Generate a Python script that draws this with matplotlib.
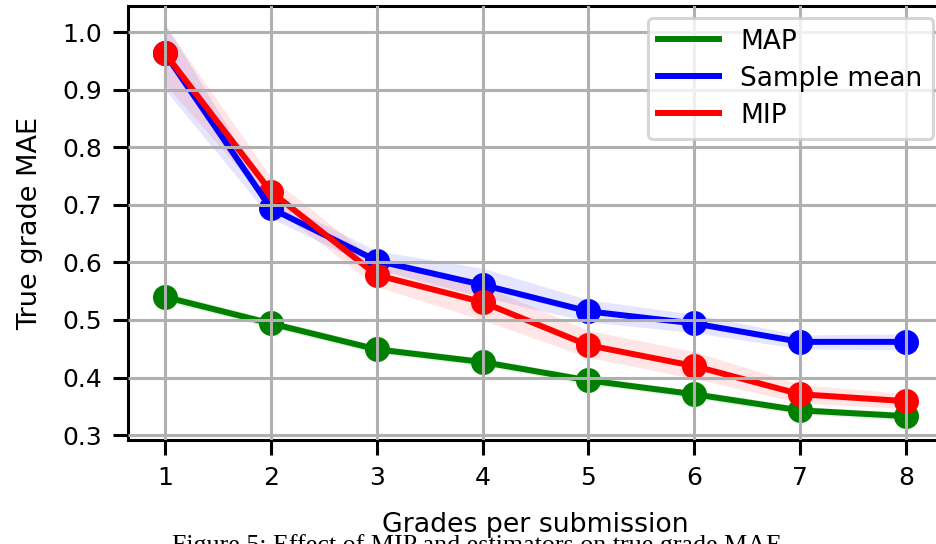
import numpy as np
import matplotlib
matplotlib.use('Agg')
import matplotlib.pyplot as plt

grades=[1,2,3,4,5,6,7,8]

map_mae=[0.540,0.494,0.449,0.427,0.395,0.371,0.343,0.333]
map_lo=[0.532,0.487,0.442,0.420,0.388,0.364,0.336,0.326]
map_hi=[0.548,0.501,0.456,0.434,0.402,0.378,0.350,0.340]

mean_mae=[0.963,0.694,0.603,0.561,0.515,0.494,0.462,0.462]
mean_lo=[0.900,0.677,0.588,0.540,0.497,0.478,0.450,0.448]
mean_hi=[1.015,0.712,0.620,0.590,0.535,0.510,0.474,0.476]

mip_mae=[0.963,0.723,0.578,0.531,0.456,0.420,0.371,0.359]
mip_lo=[0.910,0.700,0.558,0.500,0.435,0.398,0.356,0.346]
mip_hi=[1.012,0.748,0.602,0.560,0.482,0.445,0.388,0.372]

series=[('MAP',map_mae,map_lo,map_hi,'green'),
        ('Sample mean',mean_mae,mean_lo,mean_hi,'blue'),
        ('MIP',mip_mae,mip_lo,mip_hi,'red')]

fig=plt.figure(figsize=(9.37,5.44),dpi=100)
ax=fig.add_axes([128/937,104/544,815/937,434/544])

for name,vals,lo,hi,col in series:
    ax.fill_between(grades,lo,hi,color=col,alpha=0.1,linewidth=0,zorder=1)
for name,vals,lo,hi,col in series:
    ax.plot(grades,vals,'o',color=col,markersize=17,zorder=1.8)
for name,vals,lo,hi,col in series:
    ax.plot(grades,vals,color=col,linewidth=4.3,label=name,zorder=2)

ax.set_xlim(0.65,8.35)
ax.set_ylim(0.2915,1.0455)
ax.set_xticks(grades)
ax.set_yticks([0.3,0.4,0.5,0.6,0.7,0.8,0.9,1.0])
ax.set_yticklabels(['0.3','0.4','0.5','0.6','0.7','0.8','0.9','1.0'])

ax.set_axisbelow(False)
ax.grid(True,color='#b0b0b0',linewidth=2.2)
for s in ['left','bottom','top','right']:
    ax.spines[s].set_linewidth(2.2)
    ax.spines[s].set_color('black')
ax.tick_params(axis='both',length=10.5,width=2.2,labelsize=18,pad=8,colors='black')

ax.set_xlabel('Grades per submission',fontsize=19.3,labelpad=16)
ax.set_ylabel('True grade MAE',fontsize=19.5,labelpad=14)

leg=ax.legend(loc='upper right',bbox_to_anchor=(933/937,1-18/544),bbox_transform=fig.transFigure,
              fontsize=19,frameon=True,framealpha=0.8,edgecolor='#cccccc',handlelength=2.3,
              handletextpad=0.8,borderpad=0.4,labelspacing=0.42,borderaxespad=0)
leg.get_frame().set_linewidth(2.2)
for l in leg.get_lines():
    l.set_linewidth(4.3)

fig.text(172/937,-8/544,'Figure 5: Effect of MIP and estimators on true grade MAE',
         fontsize=18.7,family='Liberation Serif',ha='left',va='baseline')

fig.savefig('out.png',dpi=100)
